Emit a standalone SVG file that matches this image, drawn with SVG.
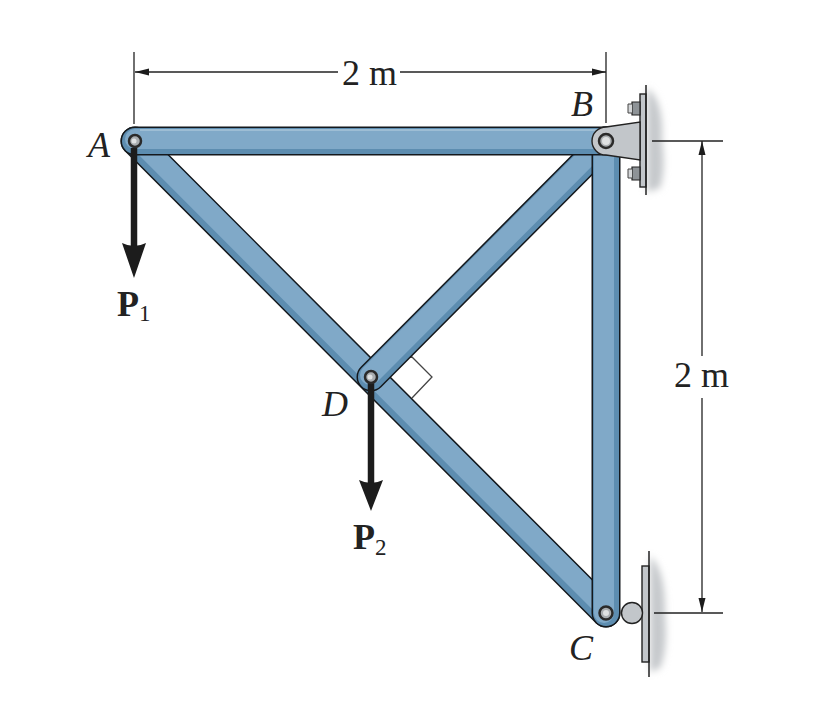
<svg xmlns="http://www.w3.org/2000/svg" width="817" height="714" viewBox="0 0 817 714">
<style>
.dim{stroke:#222;stroke-width:1.3;fill:none}
.edge{stroke:#14181c;stroke-width:29;stroke-linecap:round;fill:none}
.base{stroke:#5d8db0;stroke-width:26;stroke-linecap:round;fill:none}
.main{stroke:#80a9c8;stroke-width:20;stroke-linecap:round;fill:none}
.hi{stroke:#9dbdd4;stroke-width:2;fill:none}
.t{font-family:"Liberation Serif",serif;font-size:36px;fill:#222}
.i{font-style:italic}
.b{font-weight:bold;font-size:36px}
.s{font-size:23px}
.steel{fill:#c2c6ca;stroke:#222;stroke-width:1.4}
.force{stroke:#1c1c1c;stroke-width:6.5;fill:none}
.head{fill:#1c1c1c}
.pin{fill:#a9adb0;stroke:#2a2a2a;stroke-width:2.5}
.pinc{fill:#dfe1e2}
</style>
<defs><filter id="bl" x="-50%" y="-20%" width="200%" height="140%"><feGaussianBlur stdDeviation="3.5"/></filter></defs>

<g id="supports-shadow">
<path d="M647 88Q664 100 662 140Q666 170 660 188L647 192Z" fill="#c6c9cc" filter="url(#bl)"/>
<path d="M650 556Q666 570 665 615Q668 650 660 668L650 672Z" fill="#c6c9cc" filter="url(#bl)"/>
</g>

<g id="connectors">
<line class="dim" x1="134" y1="52" x2="134" y2="124"/>
<line class="dim" x1="606" y1="52" x2="606" y2="123"/>
<line class="dim" x1="135" y1="72" x2="338" y2="72"/>
<line class="dim" x1="400" y1="72" x2="606" y2="72"/>
<path class="head" d="M135 72l14-3.500v7zM606 72l-14-3.500v7z"/>
<line class="dim" x1="652" y1="141" x2="723" y2="141"/>
<line class="dim" x1="654" y1="613" x2="723" y2="613"/>
<line class="dim" x1="702" y1="141" x2="702" y2="356"/>
<line class="dim" x1="702" y1="398" x2="702" y2="612"/>
<path class="head" d="M702 141l-3.500 14h7zM702 612l-3.500-14h7z"/>
<path d="M390 358L412 357L432 377L412 398" fill="none" stroke="#444" stroke-width="1.300"/>
</g>

<g id="member-AC">
<line class="edge" x1="135" y1="141" x2="606" y2="613"/>
<line class="base" x1="135" y1="141" x2="606" y2="613"/>
<line class="main" x1="137" y1="139" x2="608" y2="611"/>
</g>
<g id="member-DB">
<line class="edge" x1="371" y1="377" x2="606" y2="141"/>
<line class="base" x1="371" y1="377" x2="606" y2="141"/>
<line class="main" x1="370" y1="375" x2="605" y2="139"/>
</g>
<g id="member-BC">
<line class="edge" x1="606" y1="141" x2="606" y2="613"/>
<line class="base" x1="606" y1="141" x2="606" y2="613"/>
<line class="main" x1="604" y1="141" x2="604" y2="613"/>
</g>
<g id="member-AB">
<line class="edge" x1="135" y1="141" x2="606" y2="141"/>
<line class="base" x1="135" y1="141" x2="606" y2="141"/>
<line class="main" x1="135" y1="139" x2="606" y2="139"/>
<line class="hi" x1="140" y1="130" x2="600" y2="130"/>
</g>

<g id="support-B">
<rect class="steel" x="640" y="94" width="6" height="93"/>
<line x1="646" y1="85" x2="646" y2="195" stroke="#222" stroke-width="1.500"/>
<path class="steel" d="M606 127L640 122V160L606 155A14 14 0 0 1 606 127Z"/>
<path d="M632 102h8v13h-8zM632 167h8v13h-8z" fill="#8e9397" stroke="#222" stroke-width="1.200"/>
<path d="M632 104h-4v9h4M632 169h-4v9h4" fill="#d5d7d9" stroke="#444"/>
</g>
<g id="support-C">
<rect class="steel" x="642" y="566" width="7" height="96"/>
<line x1="649" y1="551" x2="649" y2="677" stroke="#222" stroke-width="1.500"/>
<circle class="steel" cx="632" cy="613" r="10.500" stroke-width="2"/>
</g>

<g id="force-P1">
<line class="force" x1="134" y1="148" x2="134" y2="248"/>
<path class="head" d="M122 243L134 278L146 243Q134 249 122 243Z"/>
</g>
<g id="force-P2">
<line class="force" x1="371" y1="382" x2="371" y2="486"/>
<path class="head" d="M359 480L371 511L383 480Q371 486 359 480Z"/>
</g>

<g id="node-A"><circle class="pin" cx="135" cy="141" r="6"/><circle class="pinc" cx="134" cy="141" r="2.500"/>
<text class="t i" x="88" y="157">A</text></g>
<g id="node-B"><circle class="pin" cx="606" cy="141" r="7"/><circle class="pinc" cx="606" cy="141" r="4"/>
<text class="t i" x="571" y="116">B</text></g>
<g id="node-C"><circle class="pin" cx="606" cy="613" r="6.500"/><circle class="pinc" cx="606" cy="613" r="3"/>
<text class="t i" x="569" y="660">C</text></g>
<g id="node-D"><circle class="pin" cx="371" cy="377" r="6"/><circle class="pinc" cx="370" cy="377" r="2.500"/>
<text class="t i" x="322" y="416">D</text></g>

<g id="labels">
<text class="t" x="342" y="85">2 m</text>
<text class="t" x="674" y="387">2 m</text>
<text class="t b" x="117" y="316">P<tspan class="s" font-weight="normal" dy="5">1</tspan></text>
<text class="t b" x="353" y="549">P<tspan class="s" font-weight="normal" dy="6">2</tspan></text>
</g>
</svg>
